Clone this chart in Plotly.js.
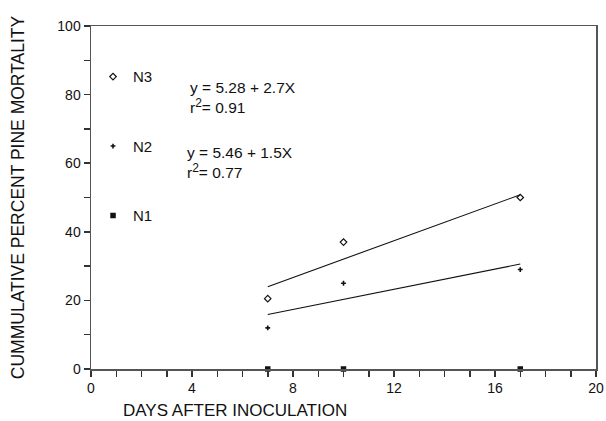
<!DOCTYPE html>
<html>
<head>
<meta charset="utf-8">
<script src="https://cdn.plot.ly/plotly-3.0.1.min.js"></script>
<style>html,body{margin:0;padding:0;background:#fff}#chart{width:606px;height:421px}</style>
</head>
<body>
<div id="chart"></div>
<script>
// Data
const days = [7, 10, 17];
const n3 = [20.5, 37, 50];
const n2 = [12, 25, 29];
const n1 = [0, 0, 0];
const fitDays = [7, 17];
const fitN3 = [24.0, 50.8];
const fitN2 = [15.9, 30.6];
const eqN3 = 'y = 5.28 + 2.7X<br>r<sup><span style="font-size:12px">2</span></sup>= 0.91';
const eqN2 = 'y = 5.46 + 1.5X<br>r<sup><span style="font-size:12px">2</span></sup>= 0.77';
const xTickVals = [0,1,2,3,4,5,6,7,8,9,10,11,12,13,14,15,16,17,18,19,20];
const xTickText = ['0','','','','4','','','','8','','','','12','','','','16','','','','20'];
const yTickVals = [0,10,20,30,40,50,60,70,80,90,100];
const yTickText = ['0','','20','','40','','60','','80','','100'];

const font = 'Liberation Sans, Arial, Helvetica, sans-serif';

const traces = [
  {x: fitDays, y: fitN3, mode: 'lines', line: {color: '#111', width: 1.1}, showlegend: false, hoverinfo: 'skip'},
  {x: fitDays, y: fitN2, mode: 'lines', line: {color: '#111', width: 1.1}, showlegend: false, hoverinfo: 'skip'},
  {x: days, y: n3, name: 'N3', legendgroup: 'a', mode: 'markers',
   marker: {symbol: 'diamond-open', size: 5, color: '#111', line: {width: 1.2}}},
  {x: days, y: n2, name: 'N2', legendgroup: 'b', mode: 'markers',
   marker: {symbol: 'cross', size: 4, color: '#111', line: {width: 0}}},
  {x: days, y: n1, name: 'N1', legendgroup: 'c', mode: 'markers', cliponaxis: false,
   marker: {symbol: 'square', size: 5.5, color: '#111'}}
];

const axisCommon = {
  showgrid: false, zeroline: false, showline: true, linecolor: '#555', linewidth: 1.5,
  mirror: true, tickmode: 'array',
  ticks: 'outside', ticklen: 6, tickwidth: 1.5, tickcolor: '#333',
  tickfont: {family: font, size: 14, color: '#111'}
};

const layout = {
  width: 606, height: 421,
  margin: {l: 91, r: 10, t: 26, b: 52},
  paper_bgcolor: '#fff', plot_bgcolor: '#fff',
  font: {family: font, color: '#111'},
  xaxis: Object.assign({}, axisCommon, {
    range: [0, 20], tickvals: xTickVals, ticktext: xTickText
  }),
  yaxis: Object.assign({}, axisCommon, {
    range: [0, 100], tickvals: yTickVals, ticktext: yTickText,
    title: {text: 'CUMMULATIVE PERCENT PINE MORTALITY', font: {family: font, size: 17.5, color: '#111'}, standoff: 28}
  }),
  showlegend: true,
  legend: {
    x: 0.004, y: 0.9, xanchor: 'left', yanchor: 'top',
    traceorder: 'grouped', tracegroupgap: 47, itemwidth: 30,
    font: {family: font, size: 15, color: '#111'},
    bgcolor: 'rgba(0,0,0,0)'
  },
  annotations: [
    {xref: 'paper', yref: 'paper', x: 0.192, y: 0.793, xanchor: 'left', yanchor: 'middle', align: 'left',
     showarrow: false, text: eqN3, font: {family: font, size: 15.5, color: '#111'}},
    {xref: 'paper', yref: 'paper', x: 0.186, y: 0.603, xanchor: 'left', yanchor: 'middle', align: 'left',
     showarrow: false, text: eqN2, font: {family: font, size: 15.5, color: '#111'}},
    {xref: 'paper', yref: 'paper', x: 0.285, y: -0.12, xanchor: 'center', yanchor: 'middle',
     showarrow: false, text: 'DAYS AFTER INOCULATION', font: {family: font, size: 17, color: '#111'}}
  ]
};

Plotly.newPlot('chart', traces, layout, {staticPlot: true, displayModeBar: false});
</script>
</body>
</html>
